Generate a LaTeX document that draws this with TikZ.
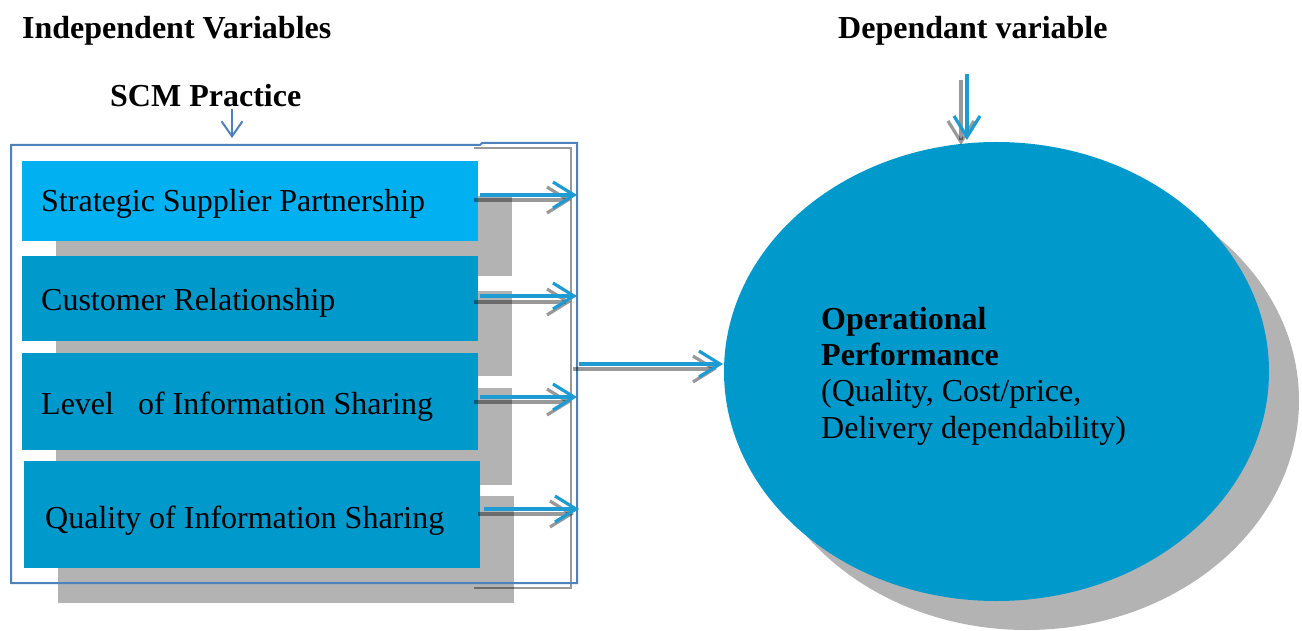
\documentclass[tikz,border=0pt]{standalone}
\usepackage{fontspec}
\setmainfont{Liberation Serif}
\usetikzlibrary{arrows.meta,shapes.geometric,shadows}
\definecolor{boxlight}{RGB}{0,176,240}
\definecolor{boxblue}{RGB}{0,153,204}
\definecolor{shade}{RGB}{179,179,179}
\definecolor{arrowblue}{RGB}{30,155,210}
\definecolor{frameblue}{RGB}{79,129,189}
\begin{document}
\begin{tikzpicture}[x=1pt,y=-1pt,
  txt/.style={font=\fontsize{32}{36}\selectfont, inner sep=0pt, anchor=base west},
  heading/.style={txt, font=\fontsize{32}{36}\selectfont\bfseries},
  factor/.style={anchor=north west, inner sep=0pt, minimum width=456pt,
    drop shadow={shadow xshift=34pt, shadow yshift=-35pt, fill=shade, opacity=1}},
  bluearrow/.style={arrowblue, line width=3.2pt,
    -{Straight Barb[length=21pt, width=26pt]}},
  greyarrow/.style={black, opacity=.4, line width=3.2pt,
    -{Straight Barb[length=21pt, width=26pt]}},
  frameline/.style={frameblue, line width=2pt},
  bracketline/.style={black, opacity=.4, line width=2.4pt}]
\useasboundingbox (0,0) rectangle (1302,631);

% headings
\node[heading] (hind) at (22,38.5) {Independent Variables};
\node[heading] (hdep) at (838,38.5) {Dependant variable};
\node[heading] (hscm) at (110,107) {SCM Practice};

% practice boxes
\node[factor, fill=boxlight, minimum height=80pt] (b1) at (22,161) {};
\node[factor, fill=boxblue, minimum height=85pt] (b2) at (22,256) {};
\node[factor, fill=boxblue, minimum height=97pt] (b3) at (22,353) {};
\node[factor, fill=boxblue, minimum height=107pt] (b4) at (24,461) {};
\node[txt] (t1) at (41,212) {Strategic Supplier Partnership};
\node[txt] (t2) at (41,310) {Customer Relationship};
\node[txt] (t3) at (41,414) {Level\ \ \ of Information Sharing};
\node[txt] (t4) at (45,528) {Quality of Information Sharing};

% grouping frame and bracket
\draw[bracketline] (474,148) -- (571,148) -- (571,588) -- (474,588);
\draw[frameline] (11,145) -- (480,145) -- (482,143) -- (577,143)
  -- (577,583) -- (11,583) -- cycle;

% outcome ellipse
\node[ellipse, fill=boxblue, inner sep=0pt, minimum width=545pt, minimum height=459pt,
  drop shadow={shadow xshift=30pt, shadow yshift=-29pt, fill=shade, opacity=1}]
  (perf) at (996.5,371.5) {};
\node[heading] (p1) at (821,329) {Operational};
\node[heading] (p2) at (821,365) {Performance};
\node[txt] (p3) at (821,401) {(Quality, Cost/price,};
\node[txt] (p4) at (821,438) {Delivery dependability)};

% arrow end points
\coordinate (g1s) at (474,200); \coordinate (g1e) at (571,200);
\coordinate (g2s) at (474,302); \coordinate (g2e) at (571,302);
\coordinate (g3s) at (474,402); \coordinate (g3e) at (571,402);
\coordinate (g4s) at (478,514); \coordinate (g4e) at (574,514);
\coordinate (a1s) at (480,195); \coordinate (a1e) at (577,195);
\coordinate (a2s) at (480,296); \coordinate (a2e) at (577,296);
\coordinate (a3s) at (480,397); \coordinate (a3e) at (577,397);
\coordinate (a4s) at (484,509); \coordinate (a4e) at (579,509);
\coordinate (gms) at (573,369); \coordinate (gme) at (717,369);
\coordinate (ams) at (579,364); \coordinate (ame) at (723,364);
\coordinate (gts) at (961,80);  \coordinate (gte) at (961,145);
\coordinate (ats) at (967,74);  \coordinate (ate) at (967,140);
\coordinate (ss) at (232,109);  \coordinate (se) at (232,138);

% connectors
\foreach \n in {1,2,3,4,m,t} \draw[greyarrow] (g\n s) -- (g\n e);
\foreach \n in {1,2,3,4,m,t} \draw[bluearrow] (a\n s) -- (a\n e);
\draw[frameblue, line width=2pt, -{Straight Barb[length=15pt, width=21pt]}] (ss) -- (se);
\end{tikzpicture}
\end{document}
